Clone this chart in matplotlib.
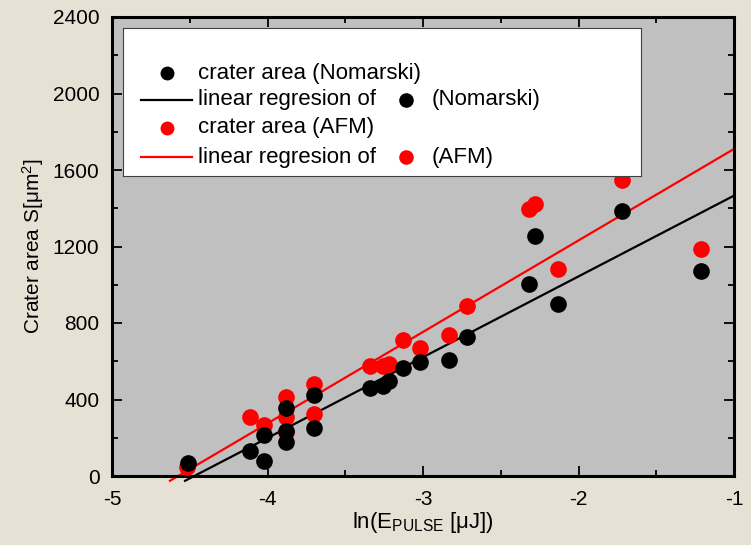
import matplotlib
matplotlib.use("Agg")
import matplotlib.pyplot as plt

plt.rcParams['font.family'] = ['Liberation Sans', 'DejaVu Sans']
plt.rcParams['mathtext.fontset'] = 'custom'
plt.rcParams['mathtext.rm'] = 'Liberation Sans'
plt.rcParams['mathtext.it'] = 'Liberation Sans:italic'
plt.rcParams['axes.unicode_minus'] = False

# Data
nom_x = [-4.51, -4.11, -4.02, -4.02, -3.88, -3.88, -3.88, -3.70, -3.70,
         -3.34, -3.26, -3.22, -3.13, -3.02, -2.83, -2.72, -2.32, -2.28,
         -2.13, -1.72, -1.21]
nom_y = [70, 130, 78, 214, 179, 235, 357, 249, 423,
         461, 470, 496, 565, 597, 609, 725, 1003, 1257,
         901, 1386, 1073]

afm_x = [-4.52, -4.11, -4.02, -3.88, -3.88, -3.88, -3.70, -3.70,
         -3.34, -3.26, -3.22, -3.13, -3.02, -2.83, -2.72, -2.32, -2.28,
         -2.13, -1.72, -1.21]
afm_y = [45, 310, 266, 414, 308, 230, 482, 322,
         574, 574, 588, 713, 670, 739, 887, 1395, 1421,
         1083, 1548, 1188]

# regression lines (end points)
reg_nom_x = [-4.53, -1.0]
reg_nom_y = [-25, 1466]
reg_afm_x = [-4.627, -1.0]
reg_afm_y = [-25, 1710]

x_ticks = [-5, -4, -3, -2, -1]
y_ticks = [0, 400, 800, 1200, 1600, 2000, 2400]

fig = plt.figure(figsize=(7.51, 5.45), dpi=100, facecolor='#e7e1d5')
ax = fig.add_axes([112/751, 1-476/545, (734-112)/751, (476-17)/545])
ax.set_facecolor('#c0c0c0')

ax.plot(reg_nom_x, reg_nom_y, color='black', lw=1.6, clip_on=False, zorder=2)
ax.plot(reg_afm_x, reg_afm_y, color='red', lw=1.6, clip_on=False, zorder=2)
ax.plot(nom_x, nom_y, 'o', color='black', ms=12, mec='none', zorder=4, clip_on=False)
ax.plot(afm_x, afm_y, 'o', color='red', ms=12, mec='none', zorder=3, clip_on=False)

ax.set_xlim(-5, -1)
ax.set_ylim(0, 2400)
ax.set_xticks(x_ticks)
ax.set_yticks(y_ticks)
ax.set_xticks([-4.5, -3.5, -2.5, -1.5], minor=True)
ax.set_yticks([200, 600, 1000, 1400, 1800, 2200], minor=True)
ax.tick_params(axis='both', which='major', direction='in', length=7, width=1.3,
               top=True, right=True, labelsize=15, colors='black')
ax.tick_params(axis='x', which='major', pad=10)
ax.tick_params(axis='y', which='major', pad=9)
ax.tick_params(axis='both', which='minor', direction='in', length=4, width=1.3,
               top=True, right=True)
for s in ax.spines.values():
    s.set_linewidth(2.2)

ax.set_xlabel(r'ln(E$_{\mathregular{PULSE}}$ [$\mathregular{\mu}$J])', fontsize=16, labelpad=1)
ax.set_ylabel(r'Crater area S[$\mathregular{\mu}$m$^{\mathregular{2}}$]', fontsize=15, labelpad=5)

# Legend built manually to mimic the boxed layout
L, T, R, B = 123, 28, 641, 176
leg_ax = fig.add_axes([L/751, 1-B/545, (R-L)/751, (B-T)/545], zorder=5)
leg_ax.set_xlim(0, R-L)
leg_ax.set_ylim(B-T, 0)
leg_ax.set_xticks([])
leg_ax.set_yticks([])
leg_ax.set_facecolor('white')
for s in leg_ax.spines.values():
    s.set_linewidth(0.8)
    s.set_color('#404040')

rows = [
    ('m', 'black', 'crater area (Nomarski)', None),
    ('l', 'black', 'linear regresion of', ('black', '(Nomarski)')),
    ('m', 'red', 'crater area (AFM)', None),
    ('l', 'red', 'linear regresion of', ('red', '(AFM)')),
]
row_y = [45, 72, 100, 129]
for (kind, col, txt, extra), yy in zip(rows, row_y):
    if kind == 'm':
        leg_ax.plot([44], [yy], 'o', color=col, ms=10, mec='none')
    else:
        leg_ax.plot([18, 69], [yy, yy], color=col, lw=1.6)
    leg_ax.text(75, yy, txt, fontsize=16, va='center', ha='left')
    if extra is not None:
        leg_ax.plot([283], [yy], 'o', color=extra[0], ms=10.5, mec='none')
        leg_ax.text(309, yy, extra[1], fontsize=16, va='center', ha='left')

fig.savefig('out.png', dpi=100, facecolor=fig.get_facecolor())
